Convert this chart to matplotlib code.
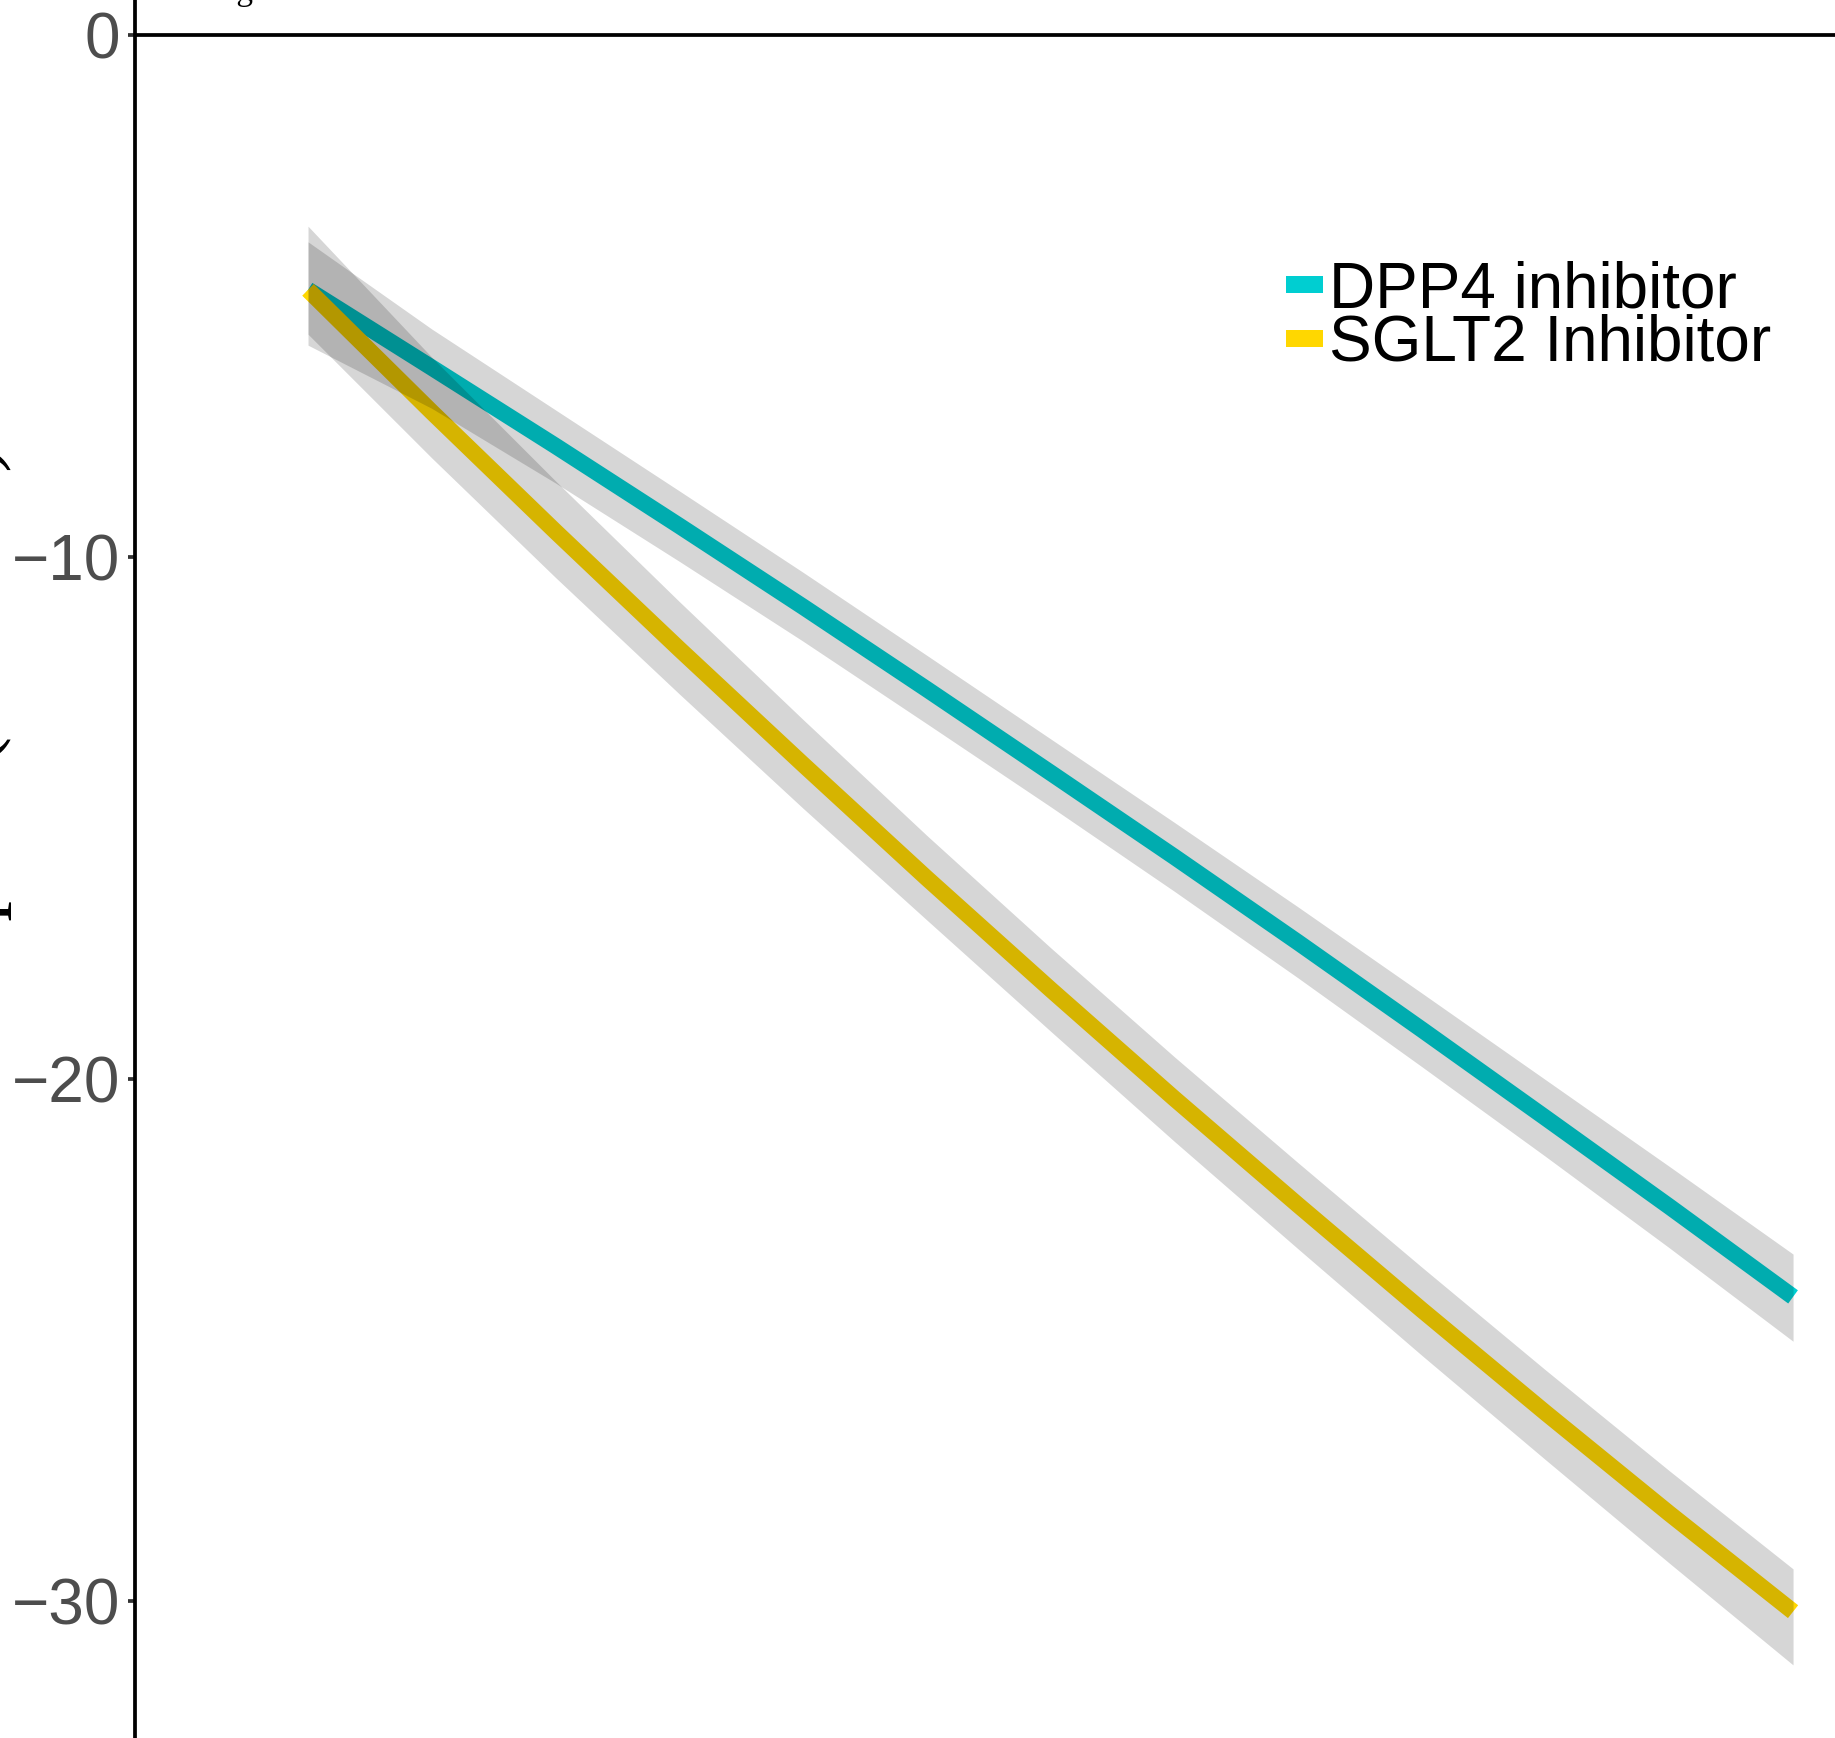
import matplotlib
matplotlib.use("Agg")
import matplotlib.pyplot as plt
from matplotlib.patches import Rectangle

# time axis (same points for curves and bands)
x_fit = [0, 1, 2, 3, 4, 5, 6, 7, 8, 9, 10, 11, 12]
dpp4_fit = [-4.88, -6.37, -7.87, -9.40, -10.95, -12.53, -14.13,
            -15.74, -17.38, -19.05, -20.74, -22.44, -24.17]
sglt2_fit = [-4.88, -7.22, -9.51, -11.76, -13.97, -16.15, -18.28,
             -20.37, -22.41, -24.42, -26.39, -28.32, -30.20]

# confidence bands
dpp4_upper = [-3.96, -5.63, -7.18, -8.73, -10.29, -11.88, -13.48,
              -15.08, -16.70, -18.35, -20.01, -21.67, -23.35]
dpp4_lower = [-5.94, -7.15, -8.58, -10.08, -11.61, -13.19, -14.78,
              -16.40, -18.06, -19.76, -21.48, -23.23, -25.02]
sglt2_upper = [-3.66, -6.17, -8.54, -10.85, -13.11, -15.33, -17.48,
               -19.57, -21.60, -23.60, -25.57, -27.50, -29.38]
sglt2_lower = [-5.73, -8.10, -10.39, -12.62, -14.81, -16.95, -19.08,
               -21.19, -23.25, -25.29, -27.29, -29.27, -31.22]

groups = ["DPP4 inhibitor", "SGLT2 Inhibitor"]
colors = ["#00CED1", "#FFD700"]
y_ticks = [0, -10, -20, -30]

W, H = 1835, 1738
fig = plt.figure(figsize=(W / 100, H / 100), dpi=100)
ax = fig.add_axes([135 / W, 0, 1 - 135 / W, 1])

# lines first, ribbons over them (as in the original)
ax.plot(x_fit, dpp4_fit, color=colors[0], lw=11.8, solid_capstyle="butt", zorder=2)
ax.plot(x_fit, sglt2_fit, color=colors[1], lw=11.8, solid_capstyle="butt", zorder=2.5)
ax.fill_between(x_fit, dpp4_lower, dpp4_upper, color="black", alpha=0.16, lw=0, zorder=3)
ax.fill_between(x_fit, sglt2_lower, sglt2_upper, color="black", alpha=0.16, lw=0, zorder=3)

ax.axhline(0, color="black", lw=2.7, zorder=1)

ax.set_xlim(-1.398, 12.339)
ax.set_ylim(-32.62, 0.672)
ax.set_yticks(y_ticks)
ax.set_yticklabels([str(v).replace("-", "\u2212") for v in y_ticks])
ax.set_xticks([])
for s in ["top", "right", "bottom"]:
    ax.spines[s].set_visible(False)
ax.spines["left"].set_linewidth(2.7)
ax.spines["left"].set_color("black")
ax.tick_params(axis="y", length=5, width=2.7, color="#333333", pad=5.5,
               labelsize=46, labelcolor="#4D4D4D")
for lab in ax.get_yticklabels():
    lab.set_fontfamily("Liberation Sans")

# legend, drawn by hand to sit where the original one does
key_y = [0.8314, 0.8003]
text_y = [0.8228, 0.7923]
for g, c, ky, ty in zip(groups, colors, key_y, text_y):
    fig.add_artist(Rectangle((1286 / W, ky), 37 / W, 17 / H, color=c,
                             transform=fig.transFigure, lw=0))
    fig.text(1329 / W, ty, g, fontsize=46, family="Liberation Sans",
             color="black", va="baseline", ha="left")

# cut-off texts at the edges of the crop
fig.text(12 / W, 1 - 444 / H, "Serum lipids (mmol/L)", rotation=90,
         ha="right", va="top", fontsize=59, family="Liberation Serif")
fig.text(167 / W, 1.0, "Change", fontsize=24, family="Liberation Serif",
         va="baseline", ha="left")

fig.savefig("out.png", dpi=100)
